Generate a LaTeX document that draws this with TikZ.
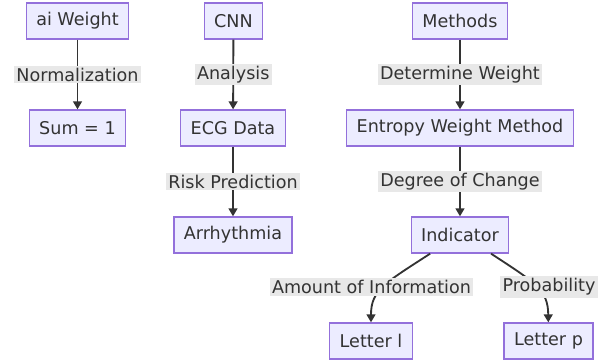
\documentclass[tikz,border=0pt]{standalone}
\usepackage{fontspec}
\setmainfont{DejaVu Sans}
\usepackage{xcolor}
\usetikzlibrary{arrows.meta,positioning}
\definecolor{boxfill}{HTML}{ECECFF}
\definecolor{boxline}{HTML}{9370DB}
\definecolor{lblfill}{HTML}{E8E8E8}
\definecolor{ink}{HTML}{333333}
\tikzset{
  box/.style={draw=boxline,fill=boxfill,line width=0.9pt,minimum height=0.9cm,inner xsep=0.25cm,font=\fontsize{12.5}{14}\selectfont,text=ink},
  lbl/.style={fill=lblfill,inner sep=1.5pt,font=\fontsize{12.5}{14}\selectfont,text=ink},
  arr/.style={draw=ink,line width=1.3pt,-{Triangle[length=2mm,width=2.2mm]}},
}

\begin{document}
\begin{tikzpicture}[x=0.025cm,y=-0.025cm]
  \useasboundingbox (0,0) rectangle (608,361);
  % left column
  \node[box] (aiw) at (77.5,21){ai Weight};
  \node[box] (sum) at (77.5,128){Sum = 1};
  \draw[arr] (aiw) -- node[lbl]{Normalization} (sum);
  % middle column
  \node[box] (cnn) at (233.5,21){CNN};
  \node[box] (ecg) at (233,128){ECG Data};
  \node[box] (arh) at (233,235){Arrhythmia};
  \draw[arr] (cnn) -- node[lbl]{Analysis} (ecg);
  \draw[arr] (ecg) -- node[lbl]{Risk Prediction} (arh);
  % right column
  \node[box] (meth) at (460,21){Methods};
  \node[box] (ewm) at (460,128){Entropy Weight Method};
  \node[box] (ind) at (460,235){Indicator};
  \node[box] (letl) at (371,341){Letter l};
  \node[box] (letp) at (548.5,341){Letter p};
  \draw[arr] (meth) -- node[lbl]{Determine Weight} (ewm);
  \draw[arr] (ewm) -- node[lbl]{Degree of Change} (ind);
  \draw[arr] (ind.212) .. controls (385,283) and (371,290) .. (letl);
  \draw[arr] (ind.329) .. controls (536,283) and (548,290) .. (letp);
  \node[lbl] (amt) at (371.5,287){Amount of Information};
  \node[lbl] (prob) at (549,287){Probability};
\end{tikzpicture}
\end{document}
